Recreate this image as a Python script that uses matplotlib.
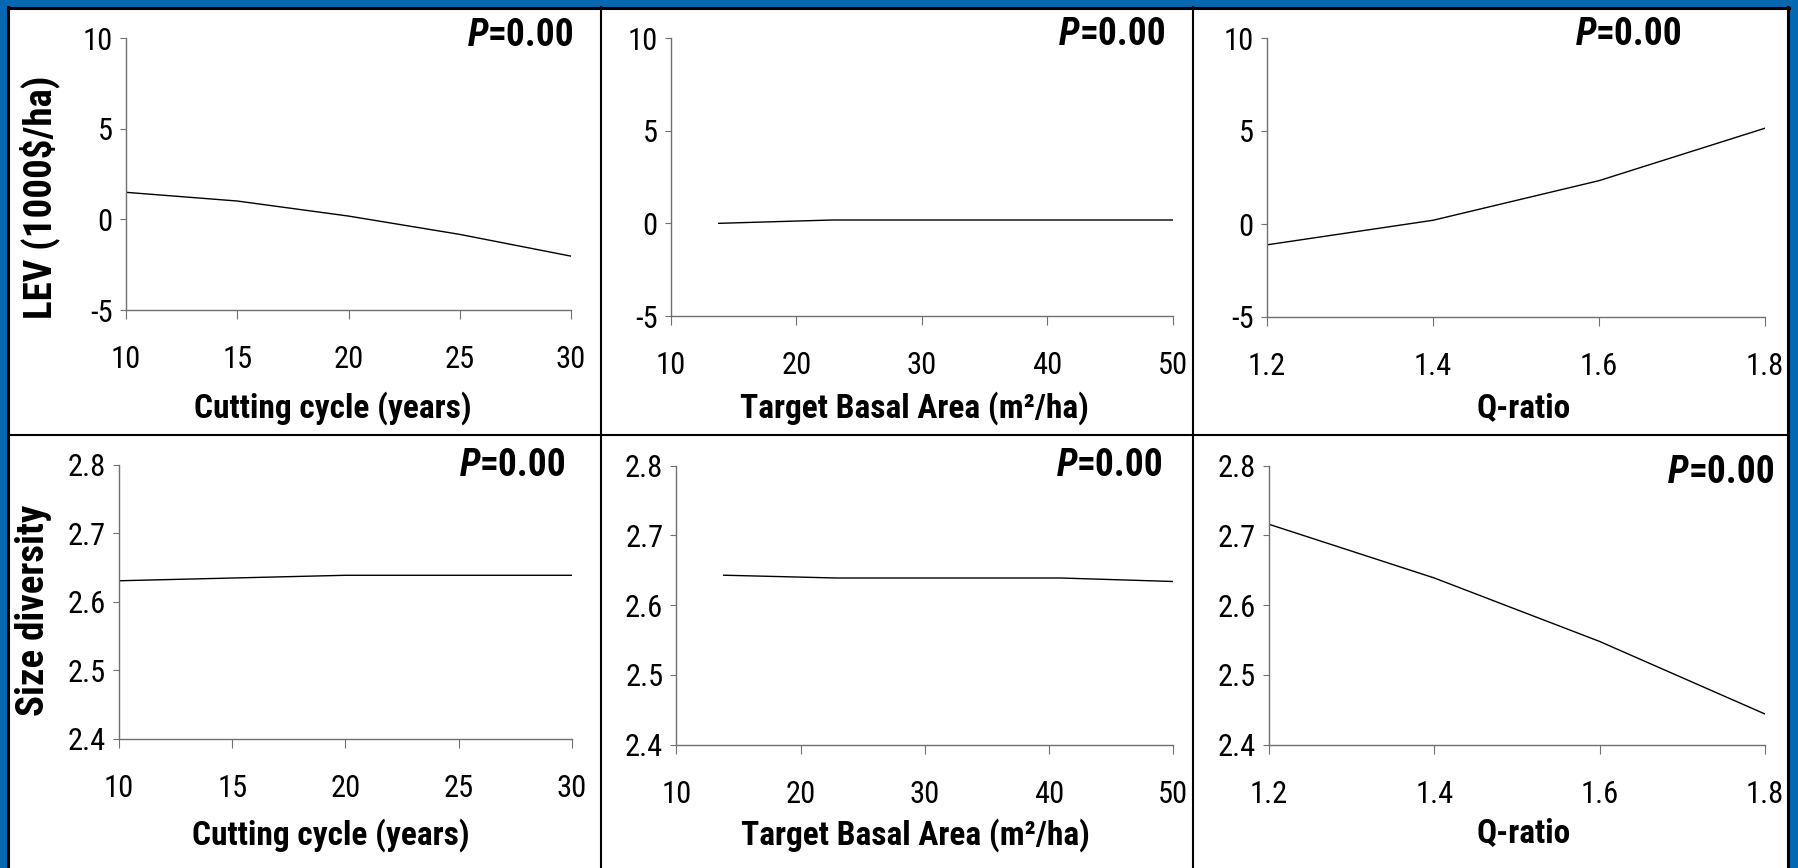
import matplotlib
matplotlib.use('Agg')
import matplotlib.pyplot as plt
from matplotlib import font_manager
from matplotlib.patches import Rectangle
from matplotlib.lines import Line2D

# the slide text is a squeezed Arial; use a narrow face when the box has one
FONT, STRETCH, K = 'Liberation Sans', 'normal', 0.85
_fonts = font_manager.fontManager.ttflist
_names = {f.name for f in _fonts}
for cand in ['Liberation Sans Narrow', 'Arial Narrow', 'Roboto Condensed',
             'Open Sans Condensed', 'Noto Sans Condensed']:
    if cand in _names:
        FONT, K = cand, 1.0
        break
else:
    for fam in ['Noto Sans', 'Roboto', 'Open Sans']:
        if any(f.name == fam and str(f.stretch) in ('condensed', 'semi-condensed') for f in _fonts):
            FONT, STRETCH, K = fam, 'condensed', 1.0
            break
plt.rcParams['font.family'] = [FONT, 'DejaVu Sans']
plt.rcParams['font.stretch'] = STRETCH

# data
cycle_x = [10, 15, 20, 25, 30]
cycle_lev = [1.49, 1.01, 0.18, -0.83, -2.03]
cycle_div = [2.631, 2.635, 2.639, 2.639, 2.639]

ba_x = [13.8, 22.85, 31.9, 40.95, 50]
ba_lev = [0.0, 0.18, 0.18, 0.18, 0.18]
ba_div = [2.643, 2.639, 2.639, 2.639, 2.634]

q_x = [1.2, 1.4, 1.6, 1.8]
q_lev = [-1.12, 0.2, 2.33, 5.15]
q_div = [2.716, 2.639, 2.548, 2.444]

cycle_ticks = [10, 15, 20, 25, 30]
ba_ticks = [10, 20, 30, 40, 50]
q_ticks = [1.2, 1.4, 1.6, 1.8]
q_ticklabels = ['1.2', '1.4', '1.6', '1.8']
lev_ticks = [-5, 0, 5, 10]
lev_ticklabels = ['-5', '0', '5', '10']
div_ticks = [2.4, 2.5, 2.6, 2.7, 2.8]
div_ticklabels = ['2.4', '2.5', '2.6', '2.7', '2.8']

xlabels = ['Cutting cycle (years)', 'Target Basal Area (m\u00b2/ha)', 'Q-ratio']
ylabels = ['LEV (1000$/ha)', 'Size diversity']
p_text = '=0.00'

W, H = 1799, 868
BLUE = '#0468b2'
fig = plt.figure(figsize=(W / 100, H / 100), dpi=100, facecolor=BLUE)


def box(x0, y0, x1, y1):
    # pixel box (top-left origin) -> figure fraction rect
    return [x0 / W, 1 - y1 / H, (x1 - x0) / W, (y1 - y0) / H]


# white slide area
fig.add_artist(Rectangle((8 / W, 0), (1788 - 8) / W, 1 - 7 / H, transform=fig.transFigure,
                         facecolor='white', edgecolor='none', zorder=-1))

panels = [
    # x, y, xticks, xticklabels, xlim, yticks, yticklabels, ylim, rect, xlabel, xlabel pos, p pos
    (cycle_x, cycle_lev, cycle_ticks, None, (10, 30), lev_ticks, lev_ticklabels, (-5, 10),
     box(126, 38, 571, 310), xlabels[0], (0.465, -0.36), (1.007, 1.011)),
    (ba_x, ba_lev, ba_ticks, None, (10, 50), lev_ticks, lev_ticklabels, (-5, 10),
     box(671, 38, 1173, 316), xlabels[1], (0.484, -0.331), (0.986, 1.011)),
    (q_x, q_lev, q_ticks, q_ticklabels, (1.2, 1.8), lev_ticks, lev_ticklabels, (-5, 10),
     box(1267, 38, 1765, 317), xlabels[2], (0.516, -0.326), (0.835, 1.011)),
    (cycle_x, cycle_div, cycle_ticks, None, (10, 30), div_ticks, div_ticklabels, (2.4, 2.8),
     box(119, 465, 572, 739), xlabels[0], (0.468, -0.35), (0.987, 1.0)),
    (ba_x, ba_div, ba_ticks, None, (10, 50), div_ticks, div_ticklabels, (2.4, 2.8),
     box(676.5, 465.7, 1173, 744.7), xlabels[1], (0.482, -0.324), (0.98, 1.0025)),
    (q_x, q_div, q_ticks, q_ticklabels, (1.2, 1.8), div_ticks, div_ticklabels, (2.4, 2.8),
     box(1269, 465.7, 1765, 744.7), xlabels[2], (0.514, -0.316), (1.02, 0.974)),
]

axes = []
for (x, y, xt, xtl, xl, yt, ytl, yl, rect, xlab, xlab_pos, p_pos) in panels:
    ax = fig.add_axes(rect)
    ax.set_facecolor('none')
    ax.plot(x, y, color='black', lw=1.0, solid_joinstyle='round')
    ax.set_xlim(*xl)
    ax.set_ylim(*yl)
    ax.set_xticks(xt)
    if xtl:
        ax.set_xticklabels(xtl)
    ax.set_yticks(yt)
    ax.set_yticklabels(ytl)
    for s in ['top', 'right']:
        ax.spines[s].set_visible(False)
    for s in ['left', 'bottom']:
        ax.spines[s].set_color('#707070')
        ax.spines[s].set_linewidth(1.0)
    ax.tick_params(axis='x', direction='out', length=6.5, width=0.8, color='#707070',
                   labelsize=22 * K, pad=19)
    ax.tick_params(axis='y', direction='out', length=4.5, width=0.8, color='#707070',
                   labelsize=22 * K, pad=5)
    ax.set_xlabel(xlab, fontsize=24 * K, fontweight='bold')
    ax.xaxis.set_label_coords(*xlab_pos)
    ax.xaxis.label.set_va('center')
    t = ax.text(p_pos[0], p_pos[1], p_text, transform=ax.transAxes, ha='right', va='center',
                fontsize=27 * K, fontweight='bold')
    ax.annotate('P', xy=(0.01, 0.5), xycoords=t, ha='right', va='center',
                fontsize=27 * K, fontweight='bold', fontstyle='italic')
    axes.append(ax)

axes[0].set_ylabel(ylabels[0], fontsize=28 * K, fontweight='bold')
axes[0].yaxis.set_label_coords(-0.193, 0.415)
axes[0].yaxis.label.set_va('center')
axes[3].set_ylabel(ylabels[1], fontsize=28 * K, fontweight='bold')
axes[3].yaxis.set_label_coords(-0.188, 0.471)
axes[3].yaxis.label.set_va('center')

# blue strip on the right clips the last tick label like on the slide
fig.add_artist(Rectangle((1789 / W, 0), 1, 1, transform=fig.transFigure,
                         facecolor=BLUE, edgecolor='none', zorder=4))


# panel frame lines
def hline(y, x0, x1, lw=1.5):
    fig.add_artist(Line2D([x0 / W, x1 / W], [1 - y / H, 1 - y / H], transform=fig.transFigure,
                          color='black', lw=lw, zorder=5))


def vline(x, y0, y1, lw=1.5):
    fig.add_artist(Line2D([x / W, x / W], [1 - y0 / H, 1 - y1 / H], transform=fig.transFigure,
                          color='black', lw=lw, zorder=5))


hline(7.5, 8, 1789, lw=2.2)
vline(8.5, 7, 868, lw=2.2)
vline(1788, 7, 868, lw=2.2)
vline(601, 7, 868)
vline(1193, 7, 868)
hline(434.5, 8, 1788)

plt.savefig('out.png', dpi=100, facecolor=BLUE)
